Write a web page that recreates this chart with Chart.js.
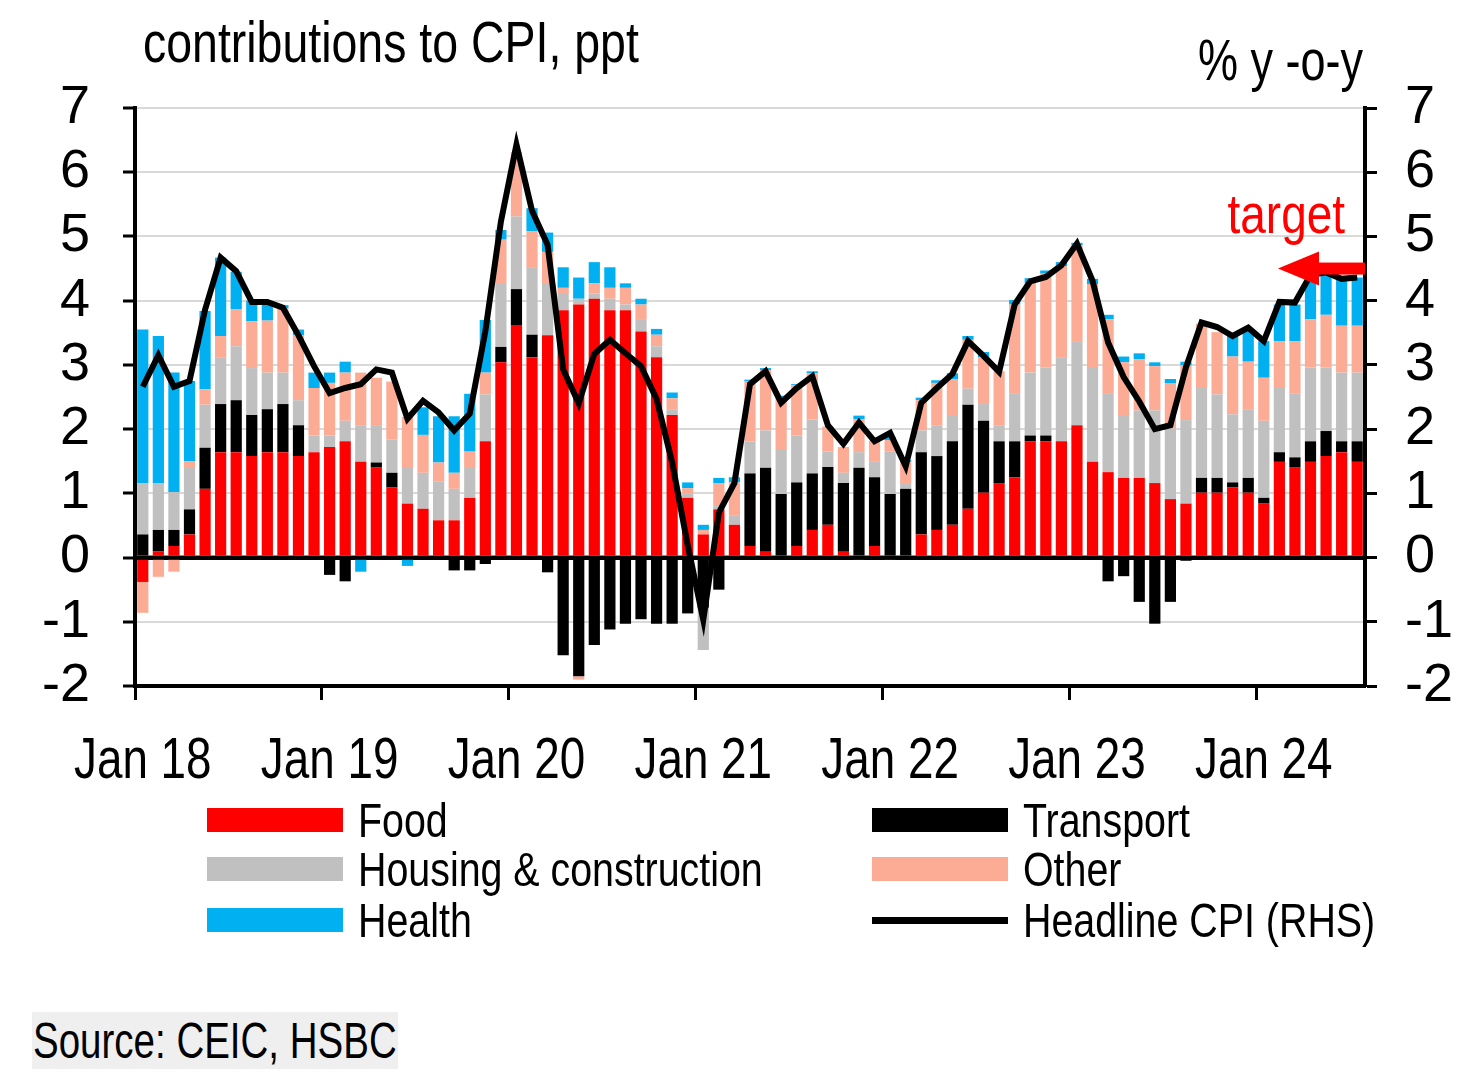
<!DOCTYPE html>
<html>
<head>
<meta charset="utf-8">
<script src="https://cdn.jsdelivr.net/npm/chart.js@4.4.0/dist/chart.umd.min.js"></script>
<style>
  body { margin: 0; background: #fff; }
  #wrap { position: relative; width: 1481px; height: 1082px; font-family: "Liberation Sans", Arial, sans-serif; color: #000; }
  #wrap canvas { position: absolute; left: 0; top: 0; }
  .txt { position: absolute; line-height: 1; white-space: nowrap; transform-origin: 0 0; }
  .sw { position: absolute; width: 136px; height: 24px; }
</style>
</head>
<body>
<div id="wrap">
  <canvas id="chart" width="1481" height="1082"></canvas>
  <div class="txt" style="left:143px;top:14px;font-size:57px;transform:scaleX(0.815)">contributions to CPI, ppt</div>
  <div class="txt" style="left:1198px;top:32px;font-size:57px;transform:scaleX(0.79)">% y -o-y</div>
  <div id="legend"></div>
  <div class="txt" style="left:32px;top:1012px;width:366px;height:57px;background:#efefef"></div>
  <div class="txt" style="left:33px;top:1016px;font-size:50px;transform:scaleX(0.77)">Source: CEIC, HSBC</div>
</div>
<script>
const FONT = '"Liberation Sans", Arial, sans-serif'

// monthly, Jan 18 .. Jul 24
const months = [
  'Jan 18','Feb 18','Mar 18','Apr 18','May 18','Jun 18','Jul 18','Aug 18','Sep 18','Oct 18','Nov 18','Dec 18',
  'Jan 19','Feb 19','Mar 19','Apr 19','May 19','Jun 19','Jul 19','Aug 19','Sep 19','Oct 19','Nov 19','Dec 19',
  'Jan 20','Feb 20','Mar 20','Apr 20','May 20','Jun 20','Jul 20','Aug 20','Sep 20','Oct 20','Nov 20','Dec 20',
  'Jan 21','Feb 21','Mar 21','Apr 21','May 21','Jun 21','Jul 21','Aug 21','Sep 21','Oct 21','Nov 21','Dec 21',
  'Jan 22','Feb 22','Mar 22','Apr 22','May 22','Jun 22','Jul 22','Aug 22','Sep 22','Oct 22','Nov 22','Dec 22',
  'Jan 23','Feb 23','Mar 23','Apr 23','May 23','Jun 23','Jul 23','Aug 23','Sep 23','Oct 23','Nov 23','Dec 23',
  'Jan 24','Feb 24','Mar 24','Apr 24','May 24','Jun 24','Jul 24'
]

const food = [
  -0.38, 0.10, 0.18, 0.36, 1.07, 1.64, 1.64, 1.58, 1.64, 1.64, 1.58, 1.64,
  1.72, 1.81, 1.49, 1.40, 1.09, 0.84, 0.76, 0.58, 0.58, 0.93, 1.81, 3.04,
  3.61, 3.12, 3.46, 3.85, 3.94, 4.03, 3.85, 3.85, 3.52, 3.12, 2.22, 0.93,
  0.36, 0.75, 0.51, 0.18, 0.09, -0.03, 0.18, 0.43, 0.51, 0.09, -0.02, 0.18,
  -0.02, 0.00, 0.36, 0.43, 0.51, 0.76, 1.01, 1.16, 1.25, 1.81, 1.81, 1.81,
  2.06, 1.49, 1.33, 1.24, 1.24, 1.16, 0.91, 0.84, 1.01, 1.01, 1.09, 1.01,
  0.84, 1.49, 1.40, 1.49, 1.58, 1.64, 1.49
]
const transport = [
  0.36, 0.33, 0.25, 0.39, 0.64, 0.75, 0.81, 0.64, 0.67, 0.75, 0.48, 0.00,
  -0.27, -0.37, 0.00, 0.08, 0.23, 0.00, 0.00, -0.03, -0.20, -0.20, -0.10, 0.24,
  0.57, 0.35, -0.23, -1.52, -1.85, -1.36, -1.12, -1.03, -0.96, -1.03, -1.03, -0.87,
  -0.78, -0.50, 0.00, 1.13, 1.31, 0.99, 0.99, 0.88, 0.90, 1.07, 1.40, 1.07,
  0.99, 1.07, 1.28, 1.15, 1.30, 1.62, 1.12, 0.65, 0.56, 0.09, 0.09, -0.03,
  0.00, -0.03, -0.37, -0.29, -0.69, -1.03, -0.69, -0.05, 0.23, 0.23, 0.08, 0.23,
  0.09, 0.15, 0.16, 0.32, 0.39, 0.17, 0.32
]
const housing = [
  0.80, 0.73, 0.59, 0.66, 0.67, 0.73, 0.84, 0.73, 0.57, 0.49, 0.39, 0.26,
  0.18, 0.32, 0.57, 0.57, 0.52, 0.57, 0.56, 0.60, 0.49, 0.48, 0.73, 0.98,
  1.13, 1.04, 0.80, 0.27, 0.09, 0.08, 0.18, 0.09, 0.18, 0.17, 0.08, 0.07,
  -0.66, 0.05, 0.15, 0.50, 0.58, 0.70, 0.73, 0.84, 0.24, 0.16, 0.24, 0.24,
  0.66, 0.09, 0.34, 0.48, 0.41, 0.25, 0.26, 0.25, 0.75, 0.98, 1.06, 1.31,
  1.31, 1.46, 1.23, 0.98, 1.05, 1.13, 1.10, 1.30, 1.40, 1.30, 1.06, 1.06,
  1.20, 1.00, 0.99, 1.15, 0.99, 1.07, 1.07
]
const other = [
  -0.48, -0.30, -0.22, 0.09, 0.24, 0.33, 0.58, 0.73, 0.81, 1.00, 1.01, 0.74,
  0.82, 0.75, 0.82, 0.75, 0.90, 0.78, 0.59, 0.30, 0.25, 0.24, 0.34, 0.69,
  1.00, 0.57, 0.50, 0.08, -0.05, 0.16, 0.17, 0.26, 0.24, 0.18, 0.18, 0.08,
  0.07, 0.36, 0.51, 0.93, 0.94, 0.80, 0.78, 0.72, 0.39, 0.40, 0.51, 0.33,
  0.18, 0.33, 0.47, 0.66, 0.56, 0.76, 0.73, 0.84, 1.38, 1.39, 1.46, 1.42,
  1.49, 1.31, 1.15, 0.82, 0.80, 0.69, 0.70, 0.85, 1.00, 0.97, 0.90, 0.75,
  0.67, 0.73, 0.82, 0.75, 0.82, 0.73, 0.73
]
const health = [
  2.39, 2.29, 1.86, 1.25, 1.22, 1.22, 0.58, 0.32, 0.25, 0.05, 0.09, 0.24,
  0.16, 0.17, -0.22, -0.03, -0.03, -0.13, 0.43, 0.72, 0.88, 0.90, 0.82, 0.15,
  0.00, 0.36, 0.30, 0.32, 0.33, 0.33, 0.32, 0.07, 0.09, 0.09, 0.09, 0.09,
  0.08, 0.08, 0.08, 0.03, 0.03, 0.03, 0.02, 0.03, 0.00, 0.00, 0.06, 0.00,
  0.05, 0.03, 0.04, 0.04, 0.09, 0.06, 0.08, 0.00, 0.07, 0.08, 0.05, 0.06,
  0.04, 0.08, 0.07, 0.09, 0.09, 0.06, 0.07, 0.06, 0.00, 0.00, 0.35, 0.48,
  0.57, 0.57, 0.57, 0.69, 0.67, 0.75, 0.75
]
const headline = [
  2.66, 3.15, 2.66, 2.75, 3.86, 4.67, 4.46, 3.98, 3.98, 3.89, 3.46, 2.98,
  2.56, 2.64, 2.70, 2.93, 2.88, 2.16, 2.44, 2.26, 1.98, 2.24, 3.52, 5.23,
  6.43, 5.40, 4.87, 2.93, 2.40, 3.17, 3.39, 3.18, 2.98, 2.47, 1.48, 0.19,
  -0.97, 0.70, 1.16, 2.70, 2.90, 2.41, 2.64, 2.82, 2.06, 1.77, 2.10, 1.81,
  1.94, 1.42, 2.41, 2.64, 2.86, 3.37, 3.14, 2.89, 3.94, 4.30, 4.37, 4.55,
  4.89, 4.31, 3.35, 2.81, 2.43, 2.00, 2.06, 2.96, 3.66, 3.59, 3.45, 3.58,
  3.37, 3.98, 3.97, 4.40, 4.44, 4.34, 4.36
]
const targetLevel = 4.5

const seriesNames = ['Food', 'Transport', 'Housing & construction', 'Other', 'Health']
const seriesColors = ['#ff0000', '#000000', '#c0c0c0', '#fcab95', '#00b0f0']
const seriesData = [food, transport, housing, other, health]

// zero line on top of the bars, the red "target" arrow, narrow x labels
const overlayPlugin = {
  id: 'overlay',
  afterDatasetsDraw(chart) {
    const ctx = chart.ctx
    const area = chart.chartArea
    const y0 = chart.scales.y.getPixelForValue(0)
    ctx.save()
    ctx.fillStyle = '#000'
    ctx.fillRect(area.left, y0 - 2, area.right - area.left, 4)

    const yt = chart.scales.y2.getPixelForValue(targetLevel)
    ctx.fillStyle = '#ff0000'
    ctx.fillRect(area.right - 50, yt - 6, 50, 12)
    ctx.beginPath()
    ctx.moveTo(area.right - 87, yt)
    ctx.lineTo(area.right - 46, yt - 17)
    ctx.lineTo(area.right - 46, yt + 17)
    ctx.closePath()
    ctx.fill()
    ctx.font = '56px ' + FONT
    ctx.textAlign = 'right'
    ctx.textBaseline = 'alphabetic'
    ctx.translate(area.right - 20, yt - 36)
    ctx.scale(0.82, 1)
    ctx.fillText('target', 0, 0)
    ctx.restore()
  },
  afterDraw(chart) {
    const ctx = chart.ctx
    const xs = chart.scales.x
    ctx.save()
    ctx.font = '58px ' + FONT
    ctx.fillStyle = '#000'
    ctx.textAlign = 'center'
    ctx.textBaseline = 'alphabetic'
    months.forEach((m, i) => {
      if (i % 12 !== 0) return
      ctx.save()
      ctx.translate(xs.getPixelForValue(i), chart.chartArea.bottom + 92)
      ctx.scale(0.79, 1)
      ctx.fillText(m, 0, 0)
      ctx.restore()
    })
    ctx.restore()
  }
}

const barSets = seriesData.map((d, i) => ({
  label: seriesNames[i],
  data: d,
  backgroundColor: seriesColors[i],
  borderWidth: 0,
  order: 1,
  yAxisID: 'y'
}))

const tickFont = { family: FONT, size: 54 }

new Chart(document.getElementById('chart'), {
  type: 'bar',
  data: {
    labels: months,
    datasets: [
      {
        type: 'line',
        label: 'Headline CPI (RHS)',
        data: headline,
        yAxisID: 'y2',
        borderColor: '#000',
        borderWidth: 6,
        pointRadius: 0,
        tension: 0,
        order: 0
      },
      ...barSets
    ]
  },
  options: {
    responsive: false,
    animation: false,
    devicePixelRatio: 1,
    layout: { padding: { left: 0, right: 0, top: 108, bottom: 0 } },
    plugins: { legend: { display: false }, tooltip: { enabled: false } },
    datasets: { bar: { categoryPercentage: 1, barPercentage: 0.72 } },
    scales: {
      x: {
        stacked: true,
        offset: true,
        grid: {
          offset: true,
          drawOnChartArea: false,
          tickLength: 14,
          tickWidth: 3,
          tickColor: c => (c.index % 12 === 0 && c.index < months.length) ? '#000' : 'rgba(0,0,0,0)'
        },
        border: { color: '#000', width: 4 },
        ticks: { display: false, autoSkip: false },
        afterFit: s => { s.height = 396 }
      },
      y: {
        stacked: true,
        min: -2,
        max: 7,
        ticks: { stepSize: 1, autoSkip: false, color: '#000', font: tickFont, padding: 33 },
        grid: {
          color: c => c.tick && c.tick.value === 0 ? '#000' : '#d9d9d9',
          lineWidth: c => c.tick && c.tick.value === 0 ? 4 : 2,
          tickLength: 12,
          tickWidth: 3,
          tickColor: '#000'
        },
        border: { color: '#000', width: 4 },
        afterFit: s => { s.width = 135 }
      },
      y2: {
        position: 'right',
        min: -2,
        max: 7,
        ticks: { stepSize: 1, autoSkip: false, color: '#000', font: tickFont, padding: 28 },
        grid: { drawOnChartArea: false, tickLength: 12, tickWidth: 3, tickColor: '#000' },
        border: { color: '#000', width: 4 },
        afterFit: s => { s.width = 116 }
      }
    }
  },
  plugins: [overlayPlugin]
})

// legend, two columns like the original
const legendItems = [
  { name: 'Food', color: seriesColors[0], x: 207, y: 808 },
  { name: 'Housing & construction', color: seriesColors[2], x: 207, y: 857 },
  { name: 'Health', color: seriesColors[4], x: 207, y: 908 },
  { name: 'Transport', color: seriesColors[1], x: 872, y: 808 },
  { name: 'Other', color: seriesColors[3], x: 872, y: 857 },
  { name: 'Headline CPI (RHS)', color: '#000', x: 872, y: 908, line: true }
]
const legend = document.getElementById('legend')
legendItems.forEach(it => {
  const sw = document.createElement('div')
  sw.className = 'sw'
  sw.style.left = it.x + 'px'
  sw.style.top = (it.line ? it.y + 9 : it.y) + 'px'
  sw.style.height = (it.line ? 7 : 24) + 'px'
  sw.style.background = it.color
  legend.appendChild(sw)
  const t = document.createElement('div')
  t.className = 'txt'
  t.style.left = (it.x + 151) + 'px'
  t.style.top = (it.y - 11) + 'px'
  t.style.fontSize = '48px'
  t.style.transform = 'scaleX(0.82)'
  t.textContent = it.name
  legend.appendChild(t)
})
</script>
</body>
</html>
